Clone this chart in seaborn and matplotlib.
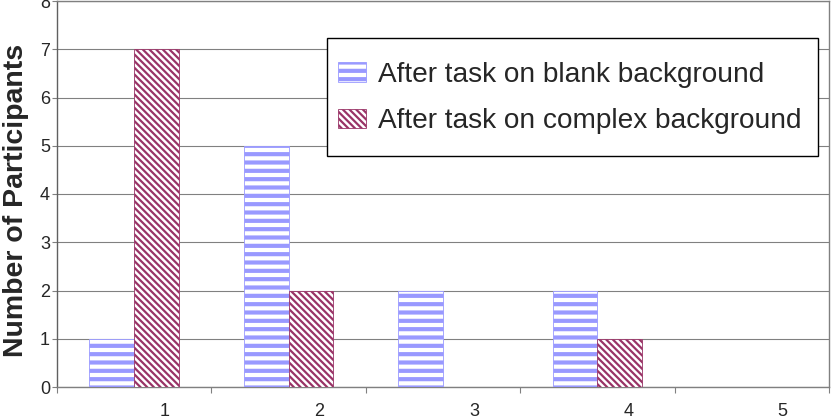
import numpy as np
import pandas as pd
import matplotlib
matplotlib.use("Agg")
import matplotlib.pyplot as plt
from matplotlib.patches import Patch, Rectangle
import seaborn as sns

# ---- data ----
categories = ["1", "2", "3", "4", "5"]
series_names = ["After task on blank background", "After task on complex background"]
blank_values = [1, 5, 2, 2, 0]
complex_values = [7, 2, 0, 1, 0]
y_ticks = [0, 1, 2, 3, 4, 5, 6, 7, 8]
y_label = "Number of Participants"

# ---- style ----
sns.set_style("white")
plt.rcParams["font.family"] = ["Liberation Sans", "DejaVu Sans"]
plt.rcParams["hatch.linewidth"] = 2.2

BLUE = "#9999FF"
MAROON = "#993366"
GRID = "#808080"

df = pd.DataFrame({
    "cat": categories * 2,
    "value": blank_values + complex_values,
    "series": [series_names[0]] * len(categories) + [series_names[1]] * len(categories),
})


def with_hatch_lw(artist, lw):
    """Give the artist its own hatch line width (works across matplotlib versions)."""
    if hasattr(artist, "set_hatch_linewidth"):
        artist.set_hatch_linewidth(lw)
    artist._hatch_linewidth = lw
    orig = artist.draw

    def draw(renderer, *args, **kwargs):
        with plt.rc_context({"hatch.linewidth": lw}):
            return orig(renderer, *args, **kwargs)

    artist.draw = draw


W, H, DPI = 831, 417, 100
fig = plt.figure(figsize=(W / DPI, H / DPI), dpi=DPI)
ax = fig.add_axes([57 / W, 30 / H, (829 - 57) / W, (386 - 0) / H])

sns.barplot(data=df, x="cat", y="value", hue="series", order=categories,
            hue_order=series_names, palette=["white", "white"], saturation=1,
            width=0.58, dodge=True, legend=False, ax=ax, zorder=3)

styles = [
    dict(edgecolor=BLUE, hatch="--", hlw=3.0),
    dict(edgecolor=MAROON, hatch="\\" * 5, hlw=1.6),
]
for cont, st in zip(ax.containers, styles):
    for bar in cont:
        bar.set_facecolor("white")
        bar.set_edgecolor(st["edgecolor"])
        bar.set_hatch(st["hatch"])
        bar.set_linewidth(0.6 if bar.get_height() > 0 else 0)
        with_hatch_lw(bar, st["hlw"])

ax.set_xlim(-0.5, len(categories) - 0.5)
ax.set_ylim(0, 8)
ax.set_yticks(y_ticks)
ax.tick_params(axis="y", length=3.5, width=0.8, color=GRID, pad=1.5, labelsize=13, direction="out", left=True)

# category labels (offset to the right as in the reference) with boundary tick marks
ax.set_xticks(np.arange(len(categories)) + 0.2)
ax.set_xticklabels(categories)
ax.tick_params(axis="x", which="major", length=0, pad=11.5, labelsize=13)
ax.set_xticks(np.arange(-0.5, len(categories), 1.0), minor=True)
ax.tick_params(axis="x", which="minor", length=4, width=0.8, color=GRID, direction="out", bottom=True)
ax.set_xlabel("")

ax.yaxis.grid(True, color=GRID, linewidth=0.8, zorder=0)
ax.set_axisbelow(True)
for side in ["left", "bottom", "right", "top"]:
    ax.spines[side].set_visible(True)
    ax.spines[side].set_color(GRID)
    ax.spines[side].set_linewidth(1.0)
ax.spines["left"].set_color("#606060")

ax.set_ylabel(y_label, fontsize=20.5, fontweight="bold")
ax.yaxis.set_label_coords(-0.036, 0.484)

# legend box
fig.add_artist(Rectangle((327 / W, 1 - 156 / H), (818 - 327) / W, (156 - 38) / H,
                         transform=fig.transFigure, facecolor="white",
                         edgecolor="black", linewidth=1.0, zorder=4))
handles = [Patch(facecolor="white", edgecolor=s["edgecolor"], hatch=s["hatch"], linewidth=0.6)
           for s in styles]
leg = fig.legend(handles, series_names, loc="center", bbox_to_anchor=(570 / W, 1 - 98 / H),
                 frameon=False, fontsize=20.2, handlelength=1.0, handleheight=0.71,
                 handletextpad=0.43, labelspacing=0.73, borderpad=0.0)
leg.set_zorder(5)
for lh, st in zip(leg.legend_handles, styles):
    with_hatch_lw(lh, st["hlw"])

fig.savefig("out.png", dpi=DPI)
